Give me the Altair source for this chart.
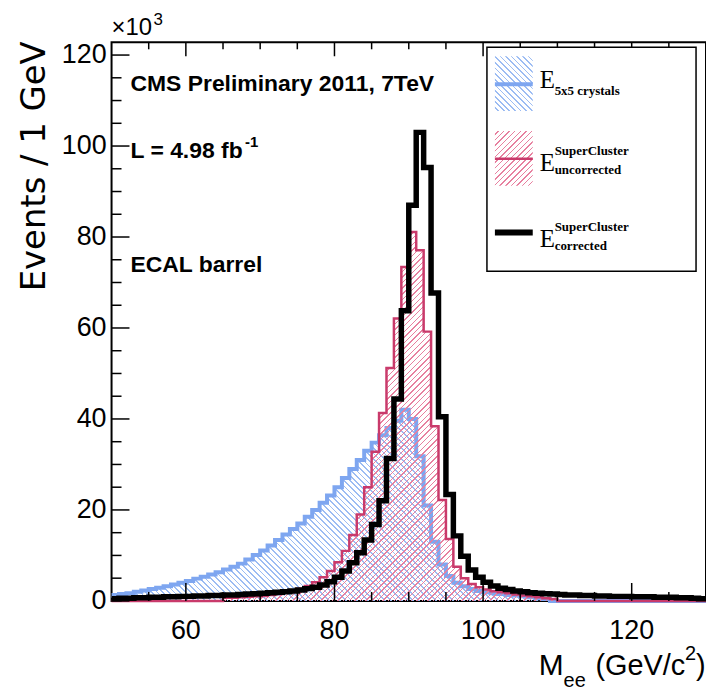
import math
import altair as alt
import pandas as pd

# ---------------- data (1 GeV bins, lower edges 50..129, values in 10^3 events) -------------
mass_edges = list(range(50, 131))

e_5x5 = [1.3, 1.5, 1.7, 2.0, 2.3, 2.6, 2.9, 3.2, 3.6, 4.0,
         4.4, 4.9, 5.3, 5.8, 6.3, 6.9, 7.5, 8.2, 9.1, 10.1,
         11.1, 12.2, 13.4, 14.6, 15.8, 17.0, 18.5, 20.0, 21.6, 23.2,
         25.0, 27.0, 29.0, 31.0, 33.0, 34.8, 36.4, 38.0, 39.6, 42.0,
         40.0, 31.8, 21.0, 13.0, 8.0, 5.5, 4.0, 3.2, 2.6, 2.2,
         1.9, 1.7, 1.5, 1.3, 1.2, 1.0, 0.8, 0.6, 0.4, 0.0,
         0.0, 0.0, 0.0, 0.0, 0.0, 0.0, 0.0, 0.0, 0.0, 0.0,
         0.0, 0.0, 0.0, 0.0, 0.0, 0.0, 0.0, 0.0, 0.0, 0.0]

sc_uncorrected = [0.0, 0.0, 0.0, 0.0, 0.0, 0.0, 0.0, 0.0, 0.0, 0.0,
                  0.0, 0.0, 0.0, 0.0, 0.0, 0.7, 0.7, 0.8, 0.9, 1.0,
                  1.1, 1.3, 1.5, 1.8, 2.2, 2.7, 3.3, 4.1, 5.2, 6.6,
                  8.5, 11.0, 14.5, 19.0, 25.0, 32.8, 41.3, 51.2, 62.1, 73.4,
                  81.1, 77.1, 59.2, 38.4, 22.2, 13.6, 7.5, 5.0, 3.7, 3.0,
                  2.5, 2.1, 1.9, 1.7, 1.4, 1.2, 1.0, 0.8, 0.6, 0.4,
                  0.0, 0.0, 0.0, 0.0, 0.0, 0.0, 0.0, 0.0, 0.0, 0.0,
                  0.0, 0.0, 0.0, 0.0, 0.0, 0.0, 0.0, 0.0, 0.0, 0.0]

sc_corrected = [0.5, 0.6, 0.6, 0.7, 0.7, 0.8, 0.8, 0.9, 0.9, 1.0,
                1.0, 1.1, 1.1, 1.2, 1.2, 1.3, 1.3, 1.4, 1.5, 1.6,
                1.7, 1.8, 1.9, 2.0, 2.2, 2.4, 2.7, 3.0, 3.5, 4.2,
                5.2, 6.6, 8.4, 10.6, 13.4, 16.8, 22.0, 31.3, 44.4, 63.8,
                87.0, 103.0, 95.3, 67.7, 40.5, 23.4, 14.3, 9.8, 6.8, 5.2,
                4.1, 3.3, 2.8, 2.5, 2.2, 2.0, 1.8, 1.7, 1.6, 1.5,
                1.4, 1.3, 1.3, 1.2, 1.2, 1.1, 1.1, 1.0, 1.0, 1.0,
                0.9, 0.9, 0.9, 0.8, 0.8, 0.8, 0.7, 0.7, 0.6, 0.5]

x_labels = [60, 80, 100, 120]
x_minor = [55, 65, 70, 75, 85, 90, 95, 105, 110, 115, 125]
y_labels = [0, 20, 40, 60, 80, 100, 120]
y_minor = [5, 10, 15, 25, 30, 35, 45, 50, 55, 65, 70, 75, 85, 90, 95, 105, 110, 115]

# ---------------- layout / style -------------
W, H = 597, 561
YMAX = 122.8
OX, OY = 112, 41          # window position of the plot area's top-left corner

BLUE_LINE = "#7ea6f0"
BLUE_HATCH = "#9cbcf3"
RED_LINE = "#c93a6b"
RED_HATCH = "#e7809f"
SANS = "Liberation Sans"
SERIF = "Liberation Serif"


def px(x):
    return x - OX


def py(y):
    return y - OY


xs = alt.Scale(domain=[50, 130], nice=False, zero=False)
ys = alt.Scale(domain=[0, YMAX], nice=False, zero=True)
one = pd.DataFrame({"k": [0]})


def hatch(w, h, kind, spacing, lw, color):
    """Linear gradient with hard stops that draws diagonal hatching in a w x h box."""
    r = h / w
    a = (1 + r) / (1 + r * r)
    if kind == "/":
        x1, y1, x2, y2 = 0, 0, a, a * r
    else:
        x1, y1, x2, y2 = 0, 1, a, 1 - a * r
    L = (w + h) / math.sqrt(2)
    clear = "rgba(255,255,255,0)"
    stops = [alt.GradientStop(offset=0, color=clear)]
    pos = spacing / 2
    while pos + lw < L:
        o0 = round(pos / L, 6)
        o1 = round((pos + lw) / L, 6)
        stops += [alt.GradientStop(offset=o0, color=clear),
                  alt.GradientStop(offset=o0, color=color),
                  alt.GradientStop(offset=o1, color=color),
                  alt.GradientStop(offset=o1, color=clear)]
        pos += spacing
    stops.append(alt.GradientStop(offset=1, color=clear))
    return alt.Gradient(gradient="linear", stops=stops,
                        x1=round(x1, 6), y1=round(y1, 6), x2=round(x2, 6), y2=round(y2, 6))


def step_df(vals):
    return pd.DataFrame({"m": mass_edges, "v": list(vals) + [vals[-1]]})


x_enc = alt.X("m:Q", scale=xs, axis=None)
y_enc = alt.Y("v:Q", scale=ys, axis=None)

blue_df = step_df(e_5x5)
red_df = step_df(sc_uncorrected)
black_df = step_df(sc_corrected)

h_blue = max(e_5x5) * H / YMAX
h_red = max(sc_uncorrected) * H / YMAX

blue_area = alt.Chart(blue_df).mark_area(
    interpolate="step-after", fill=hatch(W, h_blue, "\\", 4.0, 1.2, BLUE_HATCH)
).encode(x=x_enc, y=y_enc)
blue_line = alt.Chart(blue_df).mark_line(
    interpolate="step-after", color=BLUE_LINE, strokeWidth=4, strokeJoin="miter"
).encode(x=x_enc, y=y_enc)
red_area = alt.Chart(red_df).mark_area(
    interpolate="step-after", fill=hatch(W, h_red, "/", 4.0, 1.0, RED_HATCH)
).encode(x=x_enc, y=y_enc)
red_line = alt.Chart(red_df).mark_line(
    interpolate="step-after", color=RED_LINE, strokeWidth=2.5, strokeJoin="miter"
).encode(x=x_enc, y=y_enc)
black_line = alt.Chart(black_df).mark_line(
    interpolate="step-after", color="black", strokeWidth=5.5, strokeJoin="miter"
).encode(x=x_enc, y=y_enc)

# ---------------- inward ticks and tick labels -------------
xt_major = pd.DataFrame({"m": x_labels, "t": [str(v) for v in x_labels]})
xt_minor = pd.DataFrame({"m": x_minor})
yt_major = pd.DataFrame({"v": y_labels, "t": [str(v) for v in y_labels]})
yt_minor = pd.DataFrame({"v": y_minor})

ticks = [
    alt.Chart(xt_major).mark_rule(color="black", strokeWidth=1.5).encode(
        x=x_enc, y=alt.value(H), y2=alt.value(H - 18)),
    alt.Chart(xt_minor).mark_rule(color="black", strokeWidth=1.5).encode(
        x=x_enc, y=alt.value(H), y2=alt.value(H - 9)),
    alt.Chart(xt_major).mark_rule(color="black", strokeWidth=1.5).encode(
        x=x_enc, y=alt.value(0), y2=alt.value(14)),
    alt.Chart(xt_minor).mark_rule(color="black", strokeWidth=1.5).encode(
        x=x_enc, y=alt.value(0), y2=alt.value(7)),
    alt.Chart(yt_major).mark_rule(color="black", strokeWidth=1.5).encode(
        y=y_enc, x=alt.value(0), x2=alt.value(18)),
    alt.Chart(yt_minor).mark_rule(color="black", strokeWidth=1.5).encode(
        y=y_enc, x=alt.value(0), x2=alt.value(10)),
    alt.Chart(xt_major).mark_text(font=SANS, fontSize=27, align="center", baseline="top",
                                  color="black").encode(
        x=x_enc, y=alt.value(H + 17), text="t:N"),
    alt.Chart(yt_major).mark_text(font=SANS, fontSize=27, align="right", baseline="middle",
                                  color="black").encode(
        y=y_enc, x=alt.value(-5), text="t:N"),
]


# ---------------- text helpers -------------
def text(t, x, y, size, font=SANS, weight="normal", align="left", angle=0):
    return alt.Chart(one).mark_text(
        text=t, font=font, fontSize=size, fontWeight=weight, align=align,
        baseline="alphabetic", angle=angle, color="black"
    ).encode(x=alt.value(px(x)), y=alt.value(py(y)))


def rect(x0, x1, y0, y1, **kw):
    return alt.Chart(one).mark_rect(**kw).encode(
        x=alt.value(px(x0)), x2=alt.value(px(x1)), y=alt.value(py(y0)), y2=alt.value(py(y1)))


def hline(x0, x1, y, color, width):
    return alt.Chart(one).mark_rule(color=color, strokeWidth=width).encode(
        x=alt.value(px(x0)), x2=alt.value(px(x1)), y=alt.value(py(y)))


texts = [
    text("×10", 112, 34, 24),
    text("3", 154, 24, 17),
    text("CMS Preliminary 2011, 7TeV", 131, 90, 23, weight="bold"),
    text("L = 4.98 fb", 131, 157, 23, weight="bold"),
    text("-1", 246, 146, 15, weight="bold"),
    text("ECAL barrel", 131, 272, 23, weight="bold"),
    text("Events / 1 GeV", 45, 40, 34, font="DejaVu Sans", align="right", angle=270),
    text("M", 541, 676, 30),
    text("ee", 566, 688, 20),
    text("(GeV/c", 598, 676, 29),
    text("2", 688, 661, 20),
    text(")", 699, 676, 29),
]

legend = [
    rect(489, 699, 46, 271, fill="white", stroke="black", strokeWidth=1.5),
    rect(497, 535, 55, 110, fill=hatch(38, 55, "\\", 4.0, 1.2, BLUE_HATCH)),
    hline(497, 535, 83, BLUE_LINE, 4),
    rect(497, 535, 130, 185, fill=hatch(38, 55, "/", 4.0, 1.0, RED_HATCH)),
    hline(497, 535, 158, RED_LINE, 2.5),
    hline(497, 535, 232, "black", 6),
    text("E", 542, 87, 25, font=SERIF),
    text("5x5 crystals", 557, 94, 13, font=SERIF, weight="bold"),
    text("E", 542, 170, 25, font=SERIF),
    text("SuperCluster", 557, 154, 13, font=SERIF, weight="bold"),
    text("uncorrected", 557, 173, 13, font=SERIF, weight="bold"),
    text("E", 542, 247, 25, font=SERIF),
    text("SuperCluster", 557, 230, 13, font=SERIF, weight="bold"),
    text("corrected", 557, 250, 13, font=SERIF, weight="bold"),
]

chart = alt.layer(
    blue_area, blue_line, red_area, red_line, black_line, *ticks, *legend, *texts
).properties(
    width=W, height=H,
    padding={"left": OX - 8, "top": OY - 8, "right": 0, "bottom": 88},
    autosize=alt.AutoSizeParams(type="none"),
    background="white",
).configure_view(stroke="black", strokeWidth=2)

chart.save("out.html", embed_options={"renderer": "svg", "actions": False})
